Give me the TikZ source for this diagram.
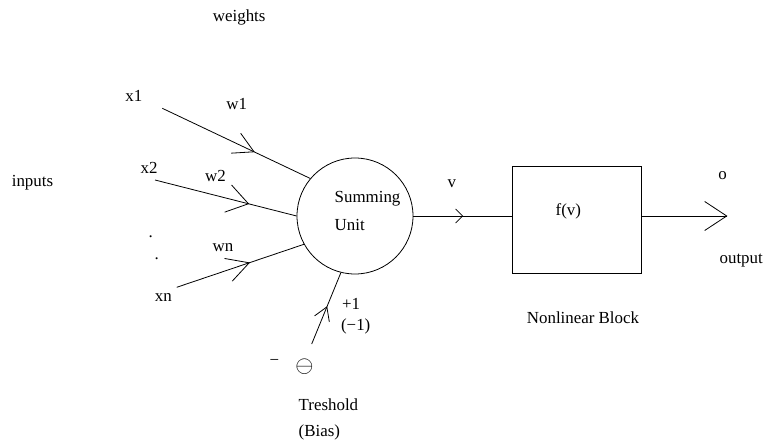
\documentclass[tikz,border=0pt]{standalone}
\usepackage{fontspec}
\setmainfont{Liberation Serif}
\usetikzlibrary{decorations.markings}
\begin{document}
\begin{tikzpicture}[x=1pt,y=-1pt, line width=0.8pt,
  every node/.style={font=\fontsize{16.9}{20}\selectfont, inner sep=0pt},
  lbl/.style={anchor=base},
  lbll/.style={anchor=base west},
  % open arrow head placed part way along a line: position, length, half-width
  tipmark/.style n args={3}{postaction={decorate}, decoration={markings,
    mark=at position #1 with {\draw[line width=0.8pt] (-#2,#3) -- (0,0) -- (-#2,-#3);}}}]
\useasboundingbox (0,0) rectangle (764,441);

% summing unit and nonlinear block
\node[draw, circle, minimum size=116pt] (sum) at (355,216) {};
\node[draw, rectangle, minimum width=128.7pt, minimum height=107.3pt] (blk) at (576.7,219.7) {};

% free ends of the connectors
\coordinate (s1) at (162.3,108.3);
\coordinate (s2) at (155,180);
\coordinate (sn) at (176.7,287.3);
\coordinate (sb) at (311.7,344);
\coordinate (out) at (726.7,216);

% weighted inputs
\draw[tipmark={0.62}{20}{11}] (s1) -- (sum.140);
\draw[tipmark={0.66}{21}{14}] (s2) -- (sum.180);
\draw[tipmark={0.57}{22}{12}] (sn) -- (sum.209);
% bias input
\draw[tipmark={0.52}{13}{8}] (sb) -- (sum.256);
% v into the block, and the output
\draw[tipmark={0.5}{7}{7}] (sum.east) -- (sum.east -| blk.west);
\draw[tipmark={0.9999}{22}{14.5}] (sum.east -| blk.east) -- (out);

% labels
\node[lbl] (tweights) at (239.2,21.7) {weights};
\node[lbl] (tx1) at (133.8,101.7) {x1};
\node[lbl] (tw1) at (236.7,109.3) {w1};
\node[lbl] (tx2) at (149,173.3) {x2};
\node[lbl] (tw2) at (215.5,181.7) {w2};
\node[lbl] (tdot1) at (150.7,237) {.};
\node[lbl] (tdot2) at (156.7,259.5) {.};
\node[lbl] (twn) at (223,251.7) {wn};
\node[lbl] (txn) at (163.3,301.7) {xn};
\node[lbl] (tinputs) at (32.5,187) {inputs};
\node[lbll] (tsum1) at (334.3,202.5) {Summing};
\node[lbll] (tsum2) at (334.3,230.5) {Unit};
\node[lbl] (tv) at (451.8,187.3) {v};
\node[lbl] (tf) at (568.3,215.5) {f(v)};
\node[lbl] (to) at (722.7,180) {o};
\node[lbl] (toutput) at (741.2,263) {output};
\node[lbl] (tblock) at (583,323.3) {Nonlinear Block};
\node[lbll] (tp1) at (341.7,309.3) {+1};
\node[lbll] (tm1) at (340.7,330.5) {(−1)};
\node[lbl] (tminus) at (274.3,365) {−};
\node (ttheta) at (304.5,366.7) {\scalebox{1.35}{$\ominus$}};
\node[lbll] (tthr) at (298.3,410) {Treshold};
\node[lbll] (tbias) at (298.3,436) {(Bias)};
\end{tikzpicture}
\end{document}
